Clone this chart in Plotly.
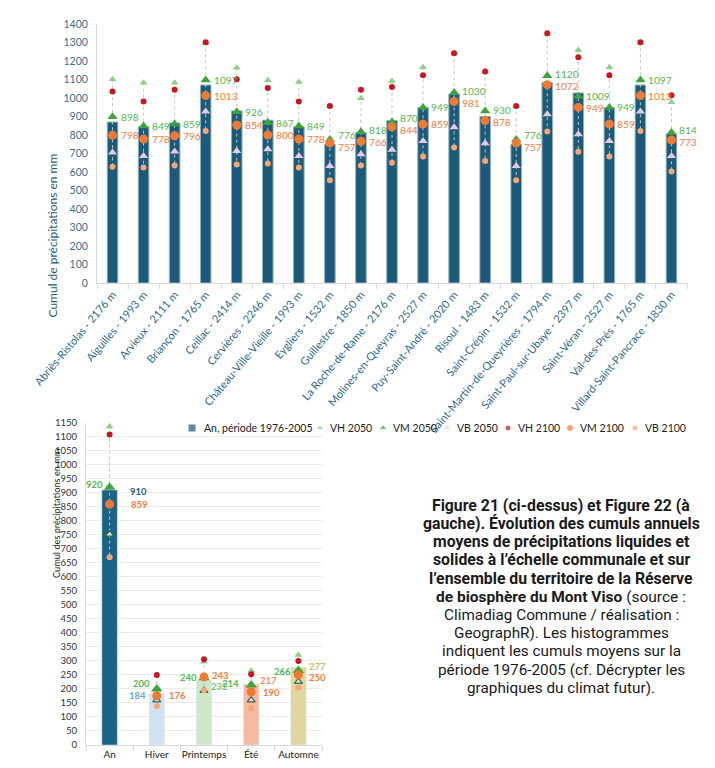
import plotly.graph_objects as go

# page body keeps an 8px margin: the figure is sized to fit inside the 715x768 window
OFF = 8
W, H = 715 - 2 * OFF, 768 - 2 * OFF

# ---------------- Figure 21 data (stations) ----------------
stations = ["Abriès-Ristolas - 2176 m", "Aiguilles - 1993 m", "Arvieux - 2111 m",
            "Briançon - 1765 m", "Ceillac - 2414 m", "Cervières - 2246 m",
            "Château-Ville-Vieille - 1993 m", "Eygliers - 1532 m", "Guillestre - 1850 m",
            "La Roche-de-Rame - 2176 m", "Molines-en-Queyras - 2527 m",
            "Puy-Saint-André - 2020 m", "Risoul - 1483 m", "Saint-Crépin - 1532 m",
            "Saint-Martin-de-Queyrières - 1794 m", "Saint-Paul-sur-Ubaye - 2397 m",
            "Saint-Véran - 2527 m", "Val-des-Prés - 1765 m", "Villard-Saint-Pancrace - 1830 m"]
ref_1976_2005 = [870, 845, 865, 1070, 930, 880, 845, 750, 813, 878, 949, 1022, 900, 750, 1083, 1027, 949, 1070, 806]
vh_2050 = [1101, 1083, 1083, 1296, 1164, 1096, 1087, 955, 999, 1092, 1166, 1240, 1140, 955, 1343, 1260, 1166, 1296, 977]
vm_2050 = [898, 849, 859, 1097, 926, 867, 849, 776, 818, 870, 949, 1030, 930, 776, 1120, 1009, 949, 1097, 814]
vb_2050 = [705, 686, 711, 927, 713, 723, 686, 633, 696, 720, 767, 842, 756, 633, 912, 804, 767, 927, 687]
vh_2100 = [1035, 981, 1044, 1301, 1101, 1054, 981, 957, 1044, 1060, 1123, 1242, 1143, 957, 1350, 1220, 1123, 1301, 1015]
vm_2100 = [798, 778, 796, 1013, 854, 800, 778, 757, 766, 844, 859, 981, 878, 757, 1072, 949, 859, 1013, 773]
vb_2100 = [628, 624, 635, 822, 641, 646, 624, 556, 635, 650, 684, 732, 660, 556, 819, 709, 684, 822, 603]
top_ticks = list(range(0, 1401, 100))

# ---------------- Figure 22 data (territory) ----------------
periods = ["An", "Hiver", "Printemps", "Été", "Automne"]
period_ref = [910, 184, 232, 217, 277]
period_vh_2050 = [1136, 204, 297, 265, 321]
period_vm_2050 = [920, 200, 240, 214, 266]
period_vb_2050 = [752, 160, 194, 160, 226]
period_vh_2100 = [1108, 250, 306, 252, 300]
period_vm_2100 = [859, 176, 243, 190, 250]
period_vb_2100 = [670, 139, 195, 131, 204]
bottom_ticks = list(range(0, 1151, 50))

legend_names = ["An, période 1976-2005", "VH 2050", "VM 2050", "VB 2050",
                "VH 2100", "VM 2100", "VB 2100"]

caption_lines = [
    "<b>Figure 21 (ci-dessus) et Figure 22 (à</b>",
    "<b>gauche). Évolution des cumuls annuels</b>",
    "<b>moyens de précipitations liquides et</b>",
    "<b>solides à l’échelle communale et sur</b>",
    "<b>l’ensemble du territoire de la Réserve</b>",
    "<b>de biosphère du Mont Viso</b> (source :",
    "Climadiag Commune / réalisation :",
    "GeographR). Les histogrammes",
    "indiquent les cumuls moyens sur la",
    "période 1976-2005 (cf. Décrypter les",
    "graphiques du climat futur).",
]
caption_sizes = [15.8, 15.8, 15.8, 15.8, 15.8, 15.5, 15.3, 15.3, 15.3, 15.3, 15.3]

# colours
C_BAR = "#1b5a78"
C_VH50 = "#8ccf86"
C_VM50 = "#3ba43a"
C_VB50 = "#e7c9e6"
C_VH00 = "#c8171e"
C_VM00 = "#ef7a31"
C_VB00 = "#f5a677"
C_LBL_G = "#55b553"
C_LBL_O = "#f07c3b"
period_colors = ["#1c6284", "#cfe2f3", "#cde8c8", "#f5baa0", "#e0d6a0"]

FONT = "Lato, 'Open Sans', sans-serif"

TOP_Y0, TOP_Y1 = 283, 24          # pixel rows of 0 and 1400 on the top chart
TOP_MAX = 1400


def px_x(p):
    return (p - OFF) / W


def px_y(p):
    return 1 - (p - OFF) / H


fig = go.Figure()

# ---------- top chart ----------
fig.add_trace(go.Bar(
    x=stations, y=ref_1976_2005, name=legend_names[0],
    marker=dict(color=C_BAR, line=dict(color="#8fb0c2", width=1)),
    width=0.34, xaxis="x", yaxis="y", hoverinfo="skip"))

# dotted connectors (span of scenario markers)
lx, ly = [], []
for i, s in enumerate(stations):
    vals = [vh_2050[i], vm_2050[i], vb_2050[i], vh_2100[i], vm_2100[i], vb_2100[i]]
    lx += [s, s, None]
    ly += [max(vals), min(vals), None]
fig.add_trace(go.Scatter(x=lx, y=ly, mode="lines", line=dict(color="#c4c4c4", width=1, dash="dot"),
                         xaxis="x", yaxis="y", hoverinfo="skip"))

styles = [  # symbol, colour, size (top chart)
    ("triangle-up", C_VH50, 7),
    ("triangle-up", C_VM50, 9),
    ("triangle-up", C_VB50, 8),
    ("circle", C_VH00, 6),
    ("circle", C_VM00, 9),
    ("circle", C_VB00, 6),
]
series_top = [vh_2050, vm_2050, vb_2050, vh_2100, vm_2100, vb_2100]
for k, vals in enumerate(series_top):
    sym, col, size = styles[k]
    fig.add_trace(go.Scatter(
        x=stations, y=vals, name=legend_names[k + 1], mode="markers",
        marker=dict(symbol=sym, color=col, size=size),
        xaxis="x", yaxis="y", hoverinfo="skip", cliponaxis=False))

ann = []
# top chart value labels (VM 2050 / VM 2100), pushed apart when they would collide
px_per_mm = (TOP_Y0 - TOP_Y1) / TOP_MAX
MIN_SEP = 12
for i, s in enumerate(stations):
    gap = (vm_2050[i] - vm_2100[i]) * px_per_mm
    push = max(0.0, (MIN_SEP - gap) / 2)
    ann.append(dict(x=s, y=vm_2050[i], xref="x", yref="y", text=str(vm_2050[i]),
                    showarrow=False, xanchor="left", yanchor="middle", xshift=6, yshift=push,
                    font=dict(family=FONT, size=10.2, color=C_LBL_G)))
    ann.append(dict(x=s, y=vm_2100[i], xref="x", yref="y", text=str(vm_2100[i]),
                    showarrow=False, xanchor="left", yanchor="middle", xshift=6, yshift=-push,
                    font=dict(family=FONT, size=10.2, color=C_LBL_O)))

# ---------- bottom chart ----------
fig.add_trace(go.Bar(
    x=periods, y=period_ref, marker=dict(color=period_colors), width=0.33,
    xaxis="x2", yaxis="y2", hoverinfo="skip"))

bx, by = [], []
for i, p in enumerate(periods):
    vals = [period_vh_2050[i], period_vm_2050[i], period_vb_2050[i],
            period_vh_2100[i], period_vm_2100[i], period_vb_2100[i]]
    bx += [p, p, None]
    by += [max(vals), min(vals), None]
fig.add_trace(go.Scatter(x=bx, y=by, mode="lines", line=dict(color="#c4c4c4", width=1, dash="dot"),
                         xaxis="x2", yaxis="y2", hoverinfo="skip"))

series_bottom = [
    (period_vh_2050, "triangle-up", C_VH50, 7, None),
    (period_vm_2050, "triangle-up", C_VM50, 10, None),
    (period_vb_2050, "triangle-up", "#e9dbe9", 7, dict(color="#2f6b3b", width=1.2)),
    (period_vh_2100, "circle", C_VH00, 6, None),
    (period_vm_2100, "circle", C_VM00, 9, None),
    (period_vb_2100, "circle", C_VB00, 6, None),
]
for vals, sym, col, size, line in series_bottom:
    m = dict(symbol=sym, color=col, size=size)
    if line:
        m["line"] = line
    fig.add_trace(go.Scatter(x=periods, y=vals, mode="markers", marker=m,
                             xaxis="x2", yaxis="y2", hoverinfo="skip", cliponaxis=False))

# ---------- legend (drawn on a hidden pixel-space overlay axis) ----------
legend_sym_x = [192, 320, 383, 447, 508, 570, 635]
legend_y = 428
leg_symbols = ["square"] + [s[0] for s in styles]
leg_colors = [C_BAR] + [s[1] for s in styles]
leg_sizes = [8, 7, 7, 7, 6, 7, 6]
fig.add_trace(go.Scatter(
    x=legend_sym_x, y=[legend_y] * len(legend_sym_x), mode="markers",
    marker=dict(symbol=leg_symbols, color=leg_colors, size=leg_sizes),
    xaxis="x3", yaxis="y3", hoverinfo="skip", cliponaxis=False))

for k, name in enumerate(legend_names):
    ann.append(dict(x=legend_sym_x[k] + (10 if k == 0 else 8), y=legend_y, xref="x3", yref="y3",
                    text=name, showarrow=False, xanchor="left", yanchor="middle",
                    font=dict(family=FONT, size=10.5, color="#222222")))

# bottom chart value labels
lbl_font = lambda c: dict(family=FONT, size=9.5, color=c)
ref_lbl_colors = ["#1f5a7c", "#6fa8dc", "#7cc47a", "#f0906a", "#cdbd6a"]
# VM 2050 labels (left)
vm50_dy = [10, 19, 0, 7, -2]
vm50_xs = [-5, -5, -5, -10, -5]
for i, p in enumerate(periods):
    ann.append(dict(x=p, y=period_vm_2050[i] + vm50_dy[i], xref="x2", yref="y2",
                    text="<b>%d</b>" % period_vm_2050[i], showarrow=False,
                    xanchor="right", xshift=vm50_xs[i], font=lbl_font(C_LBL_G)))
# reference labels
ref_pos = [("right", 18, -4), ("left", -9, -7), ("right", 5, -22), ("right", 7, 12), ("right", 9, 2)]
for i, p in enumerate(periods):
    side, xs, dy = ref_pos[i]
    ann.append(dict(x=p, y=period_ref[i] + dy, xref="x2", yref="y2",
                    text="<b>%d</b>" % period_ref[i], showarrow=False,
                    xanchor="right" if side == "left" else "left", xshift=xs,
                    font=lbl_font(ref_lbl_colors[i])))
# VM 2100 labels (right)
vm00_xs = [19, 10, 6, 10, 9]
vm00_dy = [-2, 0, 4, -1, -10]
for i, p in enumerate(periods):
    ann.append(dict(x=p, y=period_vm_2100[i] + vm00_dy[i], xref="x2", yref="y2",
                    text="<b>%d</b>" % period_vm_2100[i], showarrow=False,
                    xanchor="left", xshift=vm00_xs[i], font=lbl_font(C_LBL_O)))

# axis titles
ann.append(dict(x=px_x(43), y=px_y(152), xref="paper", yref="paper", textangle=-90,
                text="Cumul de précipitations en mm", showarrow=False,
                font=dict(family=FONT, size=12, color="#1f5b7b")))
ann.append(dict(x=px_x(49), y=px_y(580), xref="paper", yref="paper", textangle=-90,
                text="Cumul des précipitations en mm", showarrow=False,
                font=dict(family=FONT, size=9.2, color="#222222")))

# caption, one annotation per line
for i, line in enumerate(caption_lines):
    ann.append(dict(x=px_x(561), y=px_y(505 + i * 18.3), xref="paper", yref="paper", text=line,
                    showarrow=False, xanchor="center", yanchor="middle",
                    font=dict(family="Roboto, sans-serif", size=caption_sizes[i], color="#1a1a1a")))

fig.update_layout(
    width=W, height=H, margin=dict(l=0, r=0, t=0, b=0, autoexpand=False),
    paper_bgcolor="white", plot_bgcolor="rgba(0,0,0,0)",
    font=dict(family=FONT),
    annotations=ann,
    showlegend=False,
    xaxis=dict(domain=[px_x(97), px_x(687)], anchor="y", type="category", automargin=False,
               range=[-0.5, len(stations) - 0.5],
               tickangle=-50, tickfont=dict(family=FONT, size=11, color="#2d6a8f"),
               showline=True, linecolor="#d9d9d9", linewidth=1,
               ticks="outside", tickson="boundaries", ticklen=5, tickcolor="#d9d9d9",
               showgrid=False),
    yaxis=dict(domain=[px_y(TOP_Y0), px_y(TOP_Y1)], anchor="x", range=[0, TOP_MAX], automargin=False,
               tickvals=top_ticks, tickfont=dict(family=FONT, size=10.5, color="#3b6e8f"),
               showline=True, linecolor="#d9d9d9", showgrid=False, zeroline=False,
               ticks="", ticklabelstandoff=6),
    xaxis2=dict(domain=[px_x(86), px_x(322)], anchor="y2", type="category", automargin=False,
                range=[-0.5, len(periods) - 0.5],
                tickangle=0, tickfont=dict(family=FONT, size=10, color="#222222"),
                showline=True, linecolor="#d9d9d9", ticks="outside", tickson="boundaries",
                ticklen=5, tickcolor="#d9d9d9", showgrid=False),
    yaxis2=dict(domain=[px_y(745), px_y(422.7)], anchor="x2", range=[0, 1150], automargin=False,
                tickvals=bottom_ticks, tickfont=dict(family=FONT, size=9.5, color="#333333"),
                showline=True, linecolor="#d9d9d9", showgrid=True, gridcolor="#ececec",
                zeroline=False, ticks="", ticklabelstandoff=6),
    xaxis3=dict(domain=[0, 1], anchor="y3", range=[OFF, OFF + W], visible=False,
                automargin=False, fixedrange=True),
    yaxis3=dict(domain=[0, 1], anchor="x3", range=[OFF + H, OFF], visible=False,
                automargin=False, fixedrange=True),
)

fig.write_html("out.html", config={"displayModeBar": False})
